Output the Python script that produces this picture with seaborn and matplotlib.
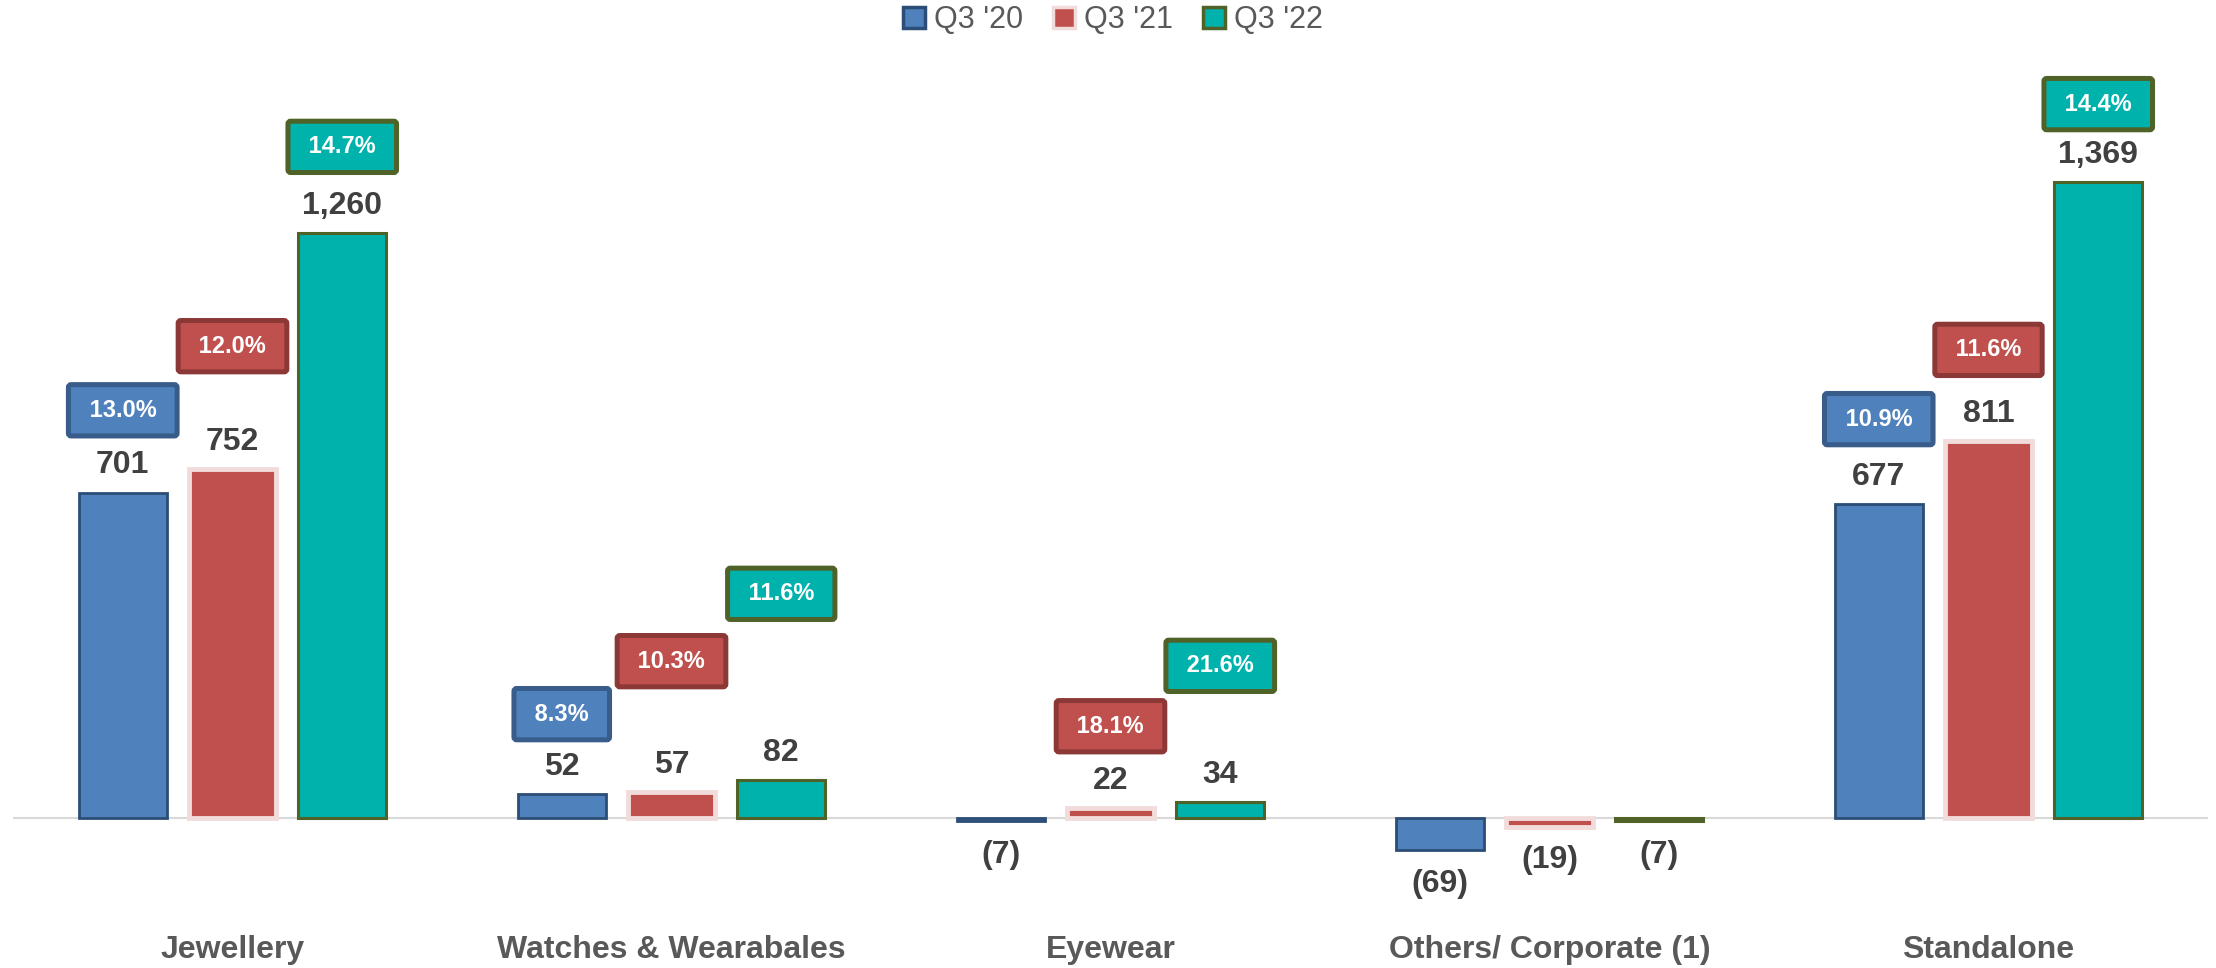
import numpy as np
import pandas as pd
import matplotlib
matplotlib.use("Agg")
import matplotlib.pyplot as plt
import seaborn as sns
from matplotlib.patches import Patch

# ---------------- data ----------------
categories = ["Jewellery", "Watches & Wearabales", "Eyewear", "Others/ Corporate (1)", "Standalone"]
series = ["Q3 '20", "Q3 '21", "Q3 '22"]
q3_20 = [701, 52, -7, -69, 677]
q3_21 = [752, 57, 22, -19, 811]
q3_22 = [1260, 82, 34, -7, 1369]
margin_20 = ["13.0%", "8.3%", None, None, "10.9%"]
margin_21 = ["12.0%", "10.3%", "18.1%", None, "11.6%"]
margin_22 = ["14.7%", "11.6%", "21.6%", None, "14.4%"]
# vertical placement of the margin boxes (data units)
margin_y_20 = [878, 224, None, None, 859]
margin_y_21 = [1016, 338, 198, None, 1008]
margin_y_22 = [1445, 483, 328, None, 1537]

values = [q3_20, q3_21, q3_22]
margins = [margin_20, margin_21, margin_22]
margin_ys = [margin_y_20, margin_y_21, margin_y_22]

df = pd.DataFrame({
    "category": np.tile(categories, len(series)),
    "series": np.repeat(series, len(categories)),
    "value": np.concatenate(values),
})

# ---------------- style ----------------
sns.set_style("white")
plt.rcParams["font.family"] = ["Liberation Sans", "DejaVu Sans"]

fills = ["#4F81BD", "#C0504D", "#00B2AC"]
bar_edges = ["#2C4D75", "#F2DCDB", "#4F6228"]
bar_lw = [2.0, 3.5, 2.2]
box_edges = ["#385D8A", "#8C3836", "#4F6228"]

fig = plt.figure(figsize=(22.16, 9.68), dpi=100)
ax = fig.add_axes([13 / 2216, 68 / 968, 2195 / 2216, 860 / 968])

sns.barplot(data=df, x="category", y="value", hue="series", order=categories,
            hue_order=series, palette=fills, width=0.75, gap=0.2, ax=ax,
            saturation=1, legend=False, errorbar=None)

ax.set_xlim(-0.5, len(categories) - 0.5)
ax.set_ylim(-176, 1675)

for i, cont in enumerate(ax.containers):
    for j, p in enumerate(cont.patches):
        p.set_edgecolor(bar_edges[i])
        p.set_linewidth(bar_lw[i])
        p.set_facecolor(fills[i])
        v = values[i][j]
        xc = p.get_x() + p.get_width() / 2
        txt = f"{v:,}" if v >= 0 else f"({abs(v)})"
        off = 19.5 if v >= 0 else -24
        ax.annotate(txt, (xc, v), xytext=(0, off), textcoords="offset points",
                    ha="center", va="center", fontsize=23, fontweight="bold",
                    color="#404040")
        m = margins[i][j]
        if m is not None:
            ax.text(xc, margin_ys[i][j], " " + m + " ", ha="center", va="center",
                    fontsize=17, fontweight="bold", color="white",
                    bbox=dict(boxstyle="round,pad=0.6,rounding_size=0.12",
                              fc=fills[i], ec=box_edges[i], lw=3.6))

ax.axhline(0, color="#D9D9D9", lw=1.5, zorder=0.5)
for s in ax.spines.values():
    s.set_visible(False)
ax.set_yticks([])
ax.set_xlabel("")
ax.set_ylabel("")
ax.tick_params(axis="x", length=0, pad=25)
for lab in ax.get_xticklabels():
    lab.set_fontsize(23)
    lab.set_fontweight("bold")
    lab.set_color("#595959")

handles = [Patch(facecolor=fills[i], edgecolor=bar_edges[i], linewidth=2.5) for i in range(3)]
leg = fig.legend(handles, series, loc="center", bbox_to_anchor=(1113 / 2216, 1 - 20 / 968),
                 ncol=3, frameon=False, fontsize=22, handlelength=0.7, handleheight=0.7,
                 handletextpad=0.3, columnspacing=1.0, labelcolor="#595959")

fig.savefig("out.png", dpi=100)
